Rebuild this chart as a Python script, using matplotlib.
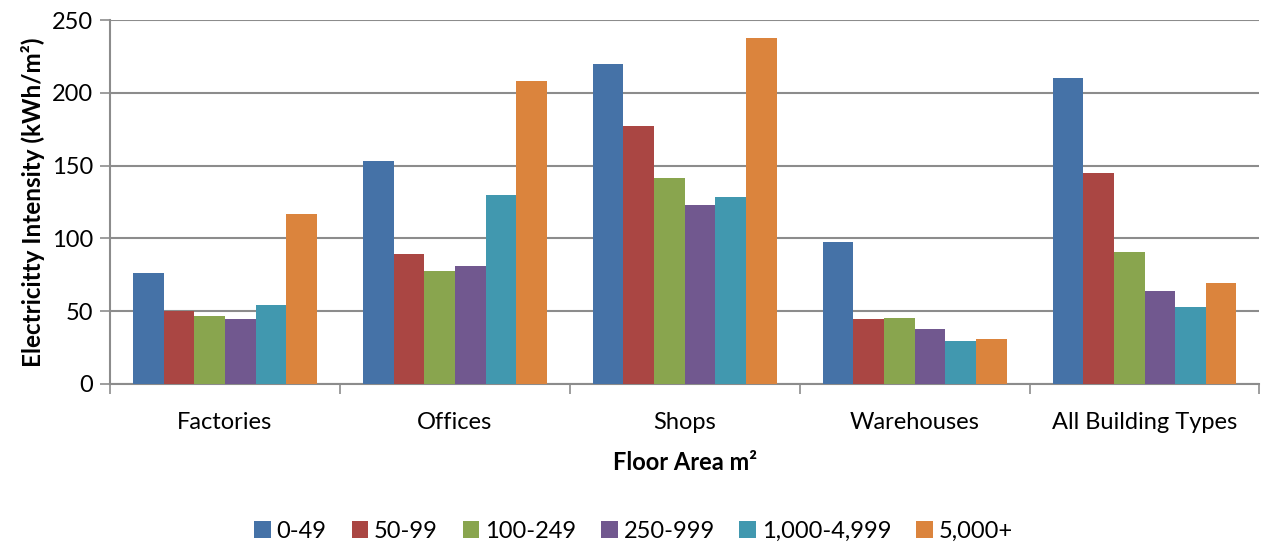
import numpy as np
import matplotlib.pyplot as plt
from matplotlib.patches import Patch

plt.rcParams['font.family'] = ['Lato', 'DejaVu Sans']

categories = ["Factories", "Offices", "Shops", "Warehouses", "All Building Types"]
bands = ["0-49", "50-99", "100-249", "250-999", "1,000-4,999", "5,000+"]
values = {
    "0-49":        [76, 153, 220, 97.5, 210],
    "50-99":       [50, 89, 177, 44.5, 145],
    "100-249":     [47, 77.5, 141.5, 45, 90.5],
    "250-999":     [44.5, 81, 123, 37.5, 64],
    "1,000-4,999": [54, 129.5, 128.5, 29.5, 53],
    "5,000+":      [117, 208, 237.5, 31, 69.5],
}
colors = ["#4572A7", "#AA4643", "#89A54E", "#71588F", "#4198AF", "#DB843D"]

fig = plt.figure(figsize=(12.62, 5.48), dpi=100)
ax = fig.add_axes([0.0872, 0.2993, 0.9108, 0.6642])

x = np.arange(len(categories))
n = len(bands)
w = 0.8 / n
for i, b in enumerate(bands):
    ax.bar(x - 0.4 + w * (i + 0.5), values[b], width=w, color=colors[i], zorder=3)

ax.set_xlim(-0.5, len(categories) - 0.5)
ax.set_ylim(0, 250)
ax.set_yticks(range(0, 251, 50))
ax.grid(axis='y', color='#8c8c8c', linewidth=1.5, zorder=0)

# category boundaries as tick marks, labels in the middle
ax.set_xticks(np.arange(-0.5, len(categories)), minor=False)
ax.set_xticklabels([])
ax.set_xticks(x, minor=True)
ax.set_xticklabels(categories, minor=True, fontsize=17)
ax.tick_params(axis='x', which='minor', length=0, pad=20)
ax.tick_params(axis='x', which='major', length=7, color='#8c8c8c', width=1.2)
ax.tick_params(axis='y', length=7, color='#8c8c8c', width=1.2, labelsize=17, pad=5)

for s in ['top', 'right']:
    ax.spines[s].set_visible(False)
for s in ['left', 'bottom']:
    ax.spines[s].set_color('#8c8c8c')
    ax.spines[s].set_linewidth(1.5)

ax.set_ylabel("Electricitty Intensity (kWh/m²)", fontsize=17.5, fontweight='bold', labelpad=5)
ax.set_xlabel("Floor Area m²", fontsize=17, fontweight='bold', labelpad=13)

handles = [Patch(facecolor=c) for c in colors]
fig.legend(handles, bands, loc='center', bbox_to_anchor=(0.502, 0.031), ncol=6,
           frameon=False, fontsize=17, handlelength=0.7, handleheight=0.7,
           handletextpad=0.25, columnspacing=1.05)

fig.savefig("out.png", dpi=100)
